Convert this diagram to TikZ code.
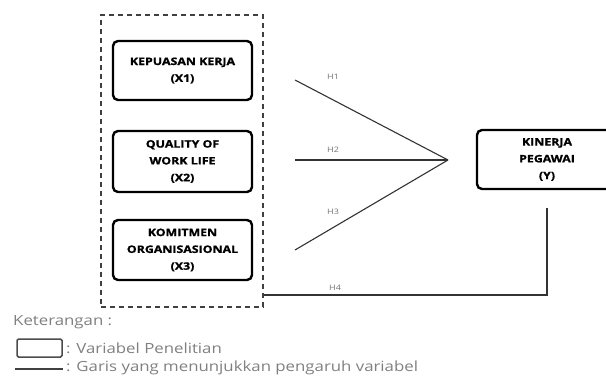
\documentclass[tikz,border=0pt]{standalone}
\usepackage{fontspec}
\setmainfont{Open Sans}
\newfontfamily\boxfont[FakeStretch=1.2, FakeBold=1.2]{Open Sans}
\newfontfamily\legfont[FakeStretch=1.2]{Open Sans}
\begin{document}
\begin{tikzpicture}[x=1pt,y=-1pt,
  varbox/.style={draw=black, line width=2.4pt, rounded corners=5pt, align=center,
    font=\boxfont\bfseries\fontsize{10.3}{16.8}\selectfont, inner sep=0pt},
  conn/.style={draw=black!80, line width=1.1pt},
  hlab/.style={font=\legfont\fontsize{7.5}{8}\selectfont, text=black!55, inner sep=0pt},
  legtext/.style={font=\legfont\fontsize{14}{16}\selectfont, text=black!50, anchor=west, inner sep=0pt}]
\useasboundingbox (0,0) rectangle (606,377);
\node[draw=black!75, dash pattern=on 5pt off 4pt, line width=1.5pt, minimum width=162pt, minimum height=292pt, inner sep=0pt] (frame) at (182,161) {};
\node[varbox, minimum width=139pt, minimum height=59pt] (x1) at (182.5,70.5) {KEPUASAN KERJA\\(X1)};
\node[varbox, minimum width=139pt, minimum height=61pt] (x2) at (182.5,161.5) {QUALITY OF\\WORK LIFE\\(X2)};
\node[varbox, minimum width=139pt, minimum height=60pt] (x3) at (182.5,250) {KOMITMEN\\ORGANISASIONAL\\(X3)};
\node[varbox, minimum width=143pt, minimum height=59pt, text width=140pt] (y) at (548.5,159.5) {\hspace*{-3pt}KINERJA\\\hspace*{-3pt}PEGAWAI\\\hspace*{-3pt}(Y)};
\coordinate (s1) at (295,80);
\coordinate (s2) at (295,160);
\coordinate (s3) at (295,250);
\coordinate (m) at (448,160);
\coordinate (c) at (547,295);
\coordinate (t) at (547,208);
\draw[conn] (s1) -- (m);
\draw[conn] (s2) -- (m);
\draw[conn] (s3) -- (m);
\draw[conn] (frame.east |- c) -- (c) -- (t);
\node[hlab] (h1) at (333,77) {H1};
\node[hlab] (h2) at (333,150) {H2};
\node[hlab] (h3) at (333,212) {H3};
\node[hlab] (h4) at (335,288) {H4};
\node[legtext] (ket) at (13,322) {Keterangan :};
\node[draw=black!70, line width=1.5pt, rounded corners=1.5pt, minimum width=45pt, minimum height=18pt, inner sep=0pt] (legbox) at (39.5,348) {};
\node[legtext] (legbt) at (66,348) {: Variabel Penelitian};
\coordinate (la) at (15,369);
\coordinate (lb) at (63,369);
\draw[black!75, line width=1.5pt] (la) -- (lb);
\node[legtext] (leglt) at (66,368) {: Garis yang menunjukkan pengaruh variabel};
\end{tikzpicture}
\end{document}
